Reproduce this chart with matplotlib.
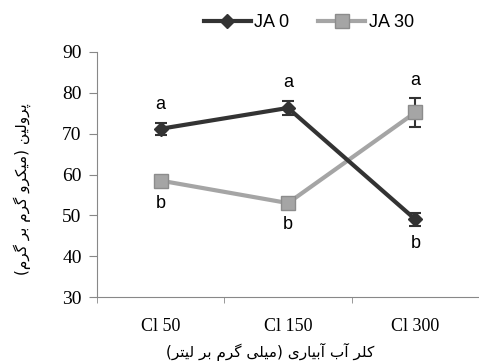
import numpy as np
import matplotlib.pyplot as plt
from matplotlib.lines import Line2D

# ---------------- data ----------------
categories = ['Cl 50', 'Cl 150', 'Cl 300']
ja0 = [71.2, 76.3, 49.0]
ja0_err = [1.5, 1.8, 1.6]
ja30 = [58.5, 53.0, 75.2]
ja30_err = [1.2, 0.8, 3.5]
ja0_letters = ['a', 'a', 'b']
ja30_letters = ['b', 'b', 'a']

ylabel_fa = 'پرولین (میکرو گرم بر گرم)'
xlabel_fa = 'کلر آب آبیاری (میلی گرم بر لیتر)'

# ---------------- crude persian shaping (no raqm in matplotlib) ----------------
# char: (isolated, final, initial, medial); two-form letters don't join to the left
FORMS = {
    'ا': ('\uFE8D', '\uFE8E'), 'آ': ('\uFE81', '\uFE82'),
    'ر': ('\uFEAD', '\uFEAE'), 'و': ('\uFEED', '\uFEEE'),
    'ب': ('\uFE8F', '\uFE90', '\uFE91', '\uFE92'),
    'ت': ('\uFE95', '\uFE96', '\uFE97', '\uFE98'),
    'ل': ('\uFEDD', '\uFEDE', '\uFEDF', '\uFEE0'),
    'م': ('\uFEE1', '\uFEE2', '\uFEE3', '\uFEE4'),
    'ن': ('\uFEE5', '\uFEE6', '\uFEE7', '\uFEE8'),
    'پ': ('\uFB56', '\uFB57', '\uFB58', '\uFB59'),
    'ک': ('\uFB8E', '\uFB8F', '\uFB90', '\uFB91'),
    'گ': ('\uFB92', '\uFB93', '\uFB94', '\uFB95'),
    'ی': ('\uFBFC', '\uFBFD', '\uFBFE', '\uFBFF'),
}


def shape(txt):
    out = []
    for i, c in enumerate(txt):
        if c not in FORMS:
            out.append(c)
            continue
        prev = txt[i - 1] if i > 0 else ''
        nxt = txt[i + 1] if i + 1 < len(txt) else ''
        join_prev = prev in FORMS and len(FORMS[prev]) == 4
        join_next = len(FORMS[c]) == 4 and nxt in FORMS
        f = FORMS[c]
        if join_prev and join_next:
            out.append(f[3])
        elif join_prev:
            out.append(f[1])
        elif join_next:
            out.append(f[2])
        else:
            out.append(f[0])
    vis = ''.join(out)[::-1]
    return vis.translate(str.maketrans('()', ')('))


# ---------------- plot ----------------
fig = plt.figure(figsize=(4.79, 3.63), dpi=100)
ax = fig.add_axes([97 / 479, 1 - 297 / 363, (479 - 97) / 479, (297 - 52) / 363])

x = np.arange(len(categories))
dark = '#333333'
light = '#a5a5a5'

ax.errorbar(x, ja0, yerr=ja0_err, color=dark, lw=3, marker='D', ms=7,
            capsize=4, elinewidth=1.5, capthick=1.5, zorder=3)
ax.errorbar(x, ja30, yerr=ja30_err, color=light, lw=3, marker='s', ms=10,
            mec='#8c8c8c', capsize=4, elinewidth=1.5, ecolor=dark,
            capthick=1.5, zorder=2)

for i in range(len(categories)):
    for val, err, let, hi in ((ja0[i], ja0_err[i], ja0_letters[i], ja0[i] > ja30[i]),
                              (ja30[i], ja30_err[i], ja30_letters[i], ja30[i] > ja0[i])):
        if hi:
            ax.text(x[i], val + err + 2.3, let, ha='center', va='bottom',
                    fontsize=13, family='Liberation Sans')
        else:
            ax.text(x[i], val - err - 2.3, let, ha='center', va='top',
                    fontsize=13, family='Liberation Sans')

ax.set_xlim(-0.5, 2.44)
ax.set_ylim(30, 90)
ax.set_yticks(range(30, 91, 10))
ax.set_xticks(x)
ax.set_xticklabels(categories, family='Liberation Serif', fontsize=13)
ax.set_xticks([-0.5, 0.5, 1.5, 2.5], minor=True)
ax.tick_params(axis='x', which='major', length=0, pad=15)
ax.tick_params(axis='x', which='minor', length=4, color='#888888')
ax.tick_params(axis='y', length=6, color='#888888', labelsize=14, pad=5)
for t in ax.get_yticklabels():
    t.set_family('Liberation Serif')

for s in ('top', 'right'):
    ax.spines[s].set_visible(False)
for s in ('left', 'bottom'):
    ax.spines[s].set_color('#888888')

fig.text(0.565, 0.03, shape(xlabel_fa), ha='center', va='center',
         fontsize=11, family='DejaVu Sans')
fig.text(0.047, 0.48, shape(ylabel_fa), ha='center', va='center',
         rotation=90, fontsize=11, family='DejaVu Sans')

handles = [Line2D([], [], color=dark, lw=3, marker='D', ms=7),
           Line2D([], [], color=light, lw=3, marker='s', ms=10, mec='#8c8c8c')]
fig.legend(handles, ['JA 0', 'JA 30'], loc='center', bbox_to_anchor=(0.645, 0.937),
           ncol=2, frameon=False, prop={'family': 'Liberation Sans', 'size': 13},
           handlelength=2.6, columnspacing=1.6, handletextpad=0.2)

fig.savefig('out.png', dpi=100)
